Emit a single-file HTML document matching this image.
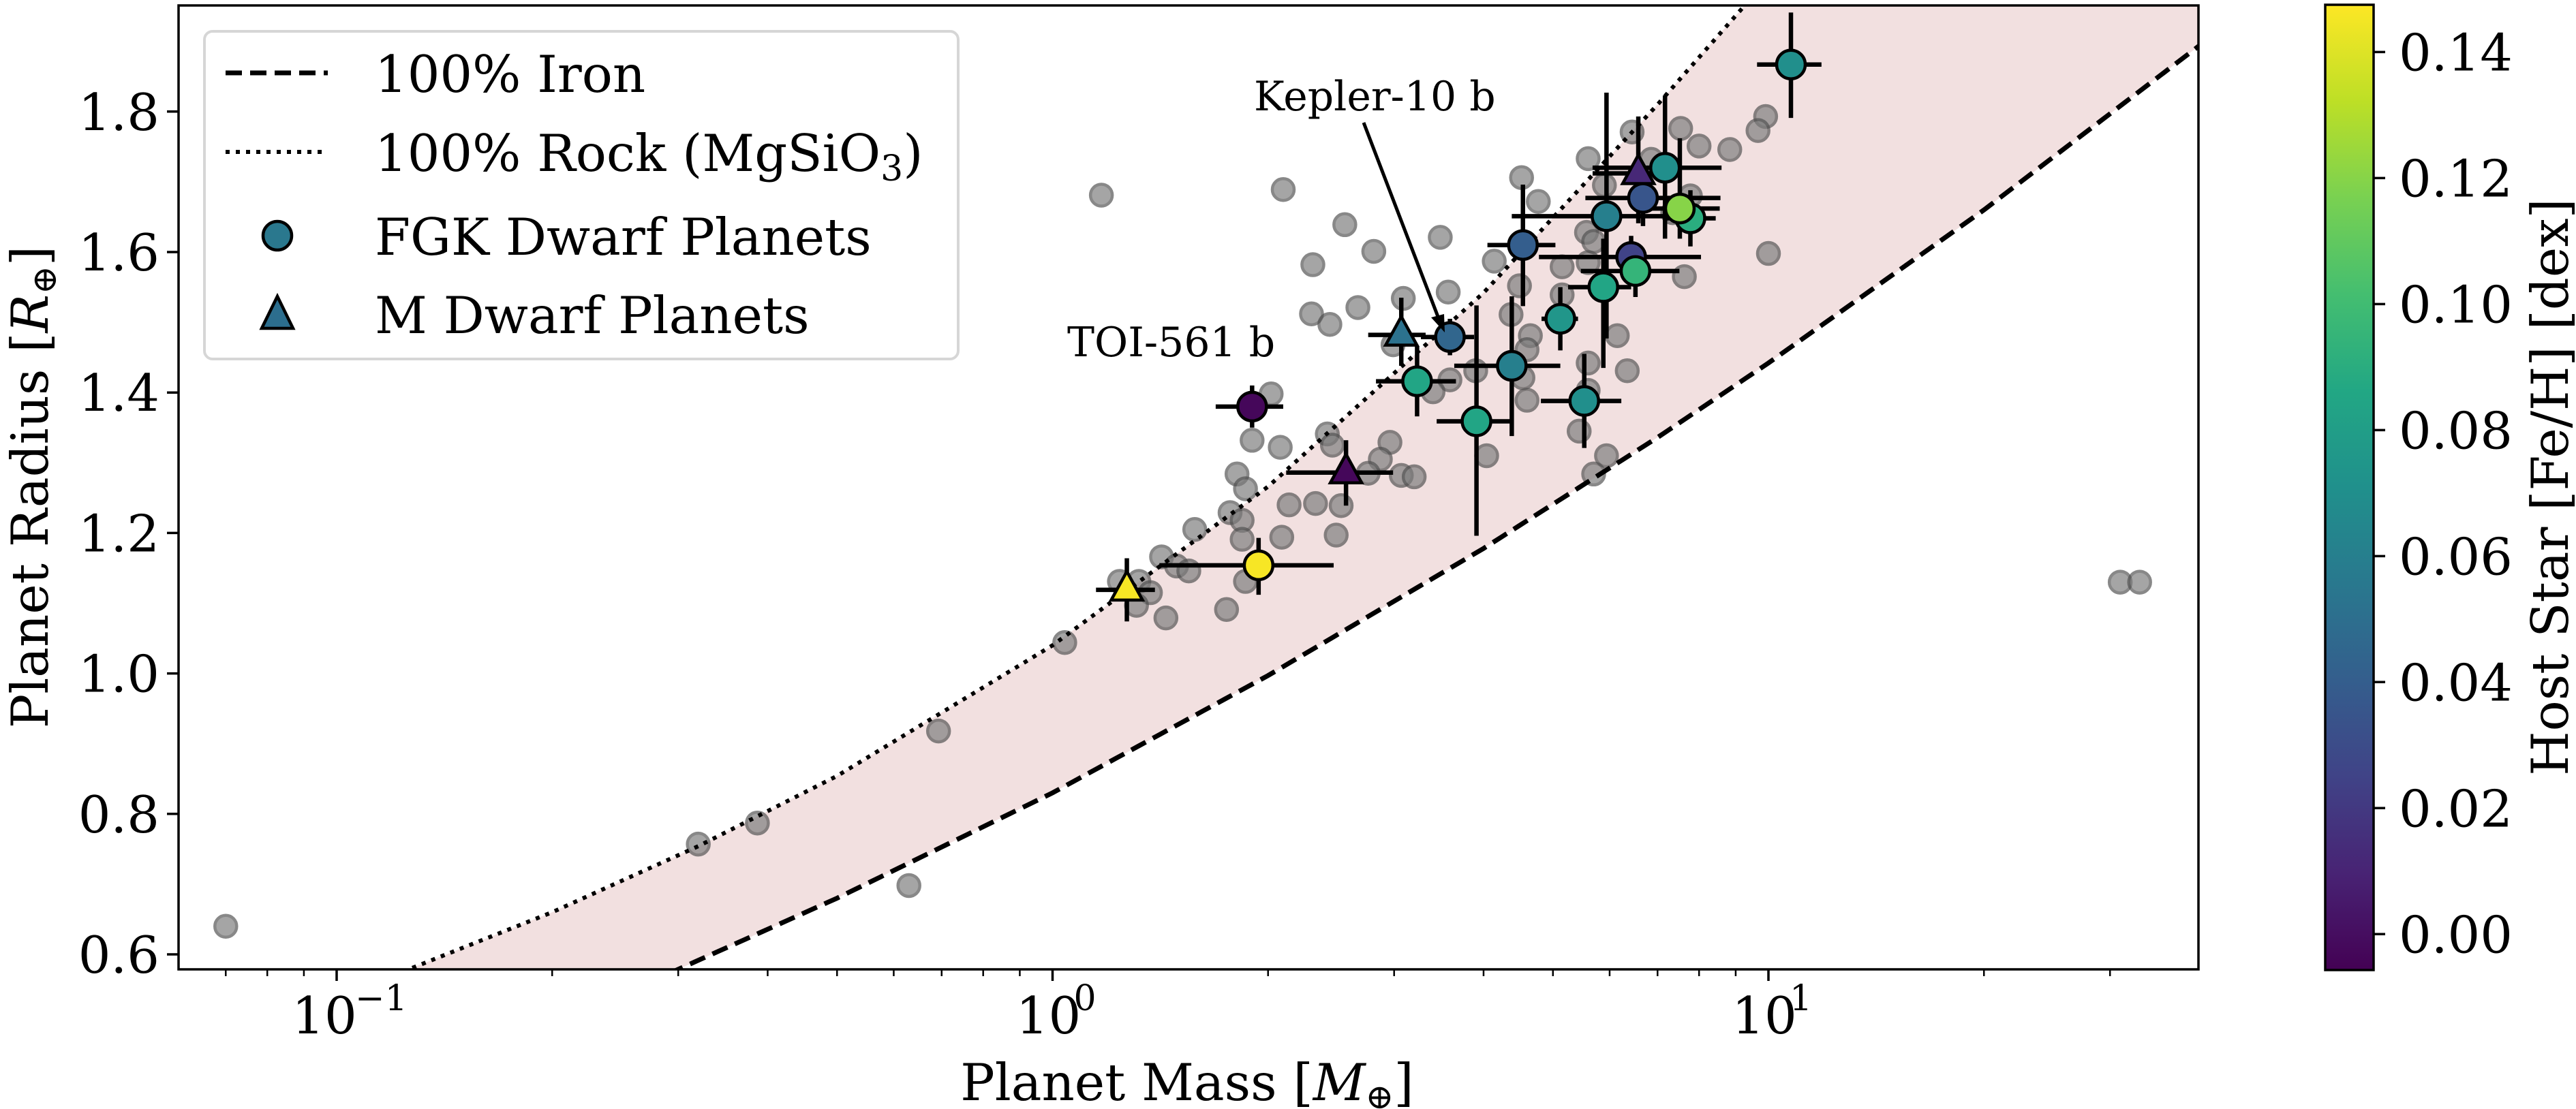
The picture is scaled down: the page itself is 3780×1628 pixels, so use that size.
<!DOCTYPE html>
<html><head><meta charset="utf-8">
<style>
html,body{margin:0;padding:0;background:#fff;}
svg{display:block;font-family:"DejaVu Serif","Liberation Serif",serif;}
</style></head>
<body>
<svg id="chart" xmlns="http://www.w3.org/2000/svg" width="3780" height="1628" viewBox="0 0 3780 1628">
</svg>
<script>
// ---------- data ----------
const rockMass   = [0.12, 0.2, 0.32, 0.5, 1, 2, 4, 7, 9.3, 12, 20, 45];
const rockRadius = [0.57, 0.660, 0.754, 0.854, 1.04, 1.266, 1.542, 1.810, 1.953, 2.10, 2.42, 3.05];
const ironMass   = [0.29, 0.5, 1, 2, 4, 7, 10, 20, 40, 45];
const ironRadius = [0.572, 0.680, 0.830, 0.997, 1.178, 1.336, 1.442, 1.660, 1.894, 1.93];

const grayMass = [0.07,0.32,0.387,0.63,0.693,1.04,1.17,2.10,2.56,2.31,2.30,2.44,2.67,2.02,1.90,2.08,1.81,1.86,2.42,2.46,1.77,1.84,1.84,2.14,2.33,2.53,2.09,2.49,1.58,1.42,1.49,1.55,1.32,1.37,1.31,1.44,1.75,1.86,1.24,
  2.81,3.48,3.09,3.57,4.14,4.52,4.77,5.60,6.45,7.54,8.0,8.83,9.91,9.67,10.0,6.86,5.9,7.78,7.35,5.57,5.7,5.6,5.15,4.49,5.15,4.37,6.15,4.65,4.6,3.9,3.59,3.4,4.54,4.6,5.6,5.6,6.35,5.44,4.04,5.94,5.7,2.96,2.87,2.76,3.07,3.2,7.63,2.99,31,33];
const grayRadius = [0.64,0.757,0.787,0.698,0.918,1.044,1.681,1.689,1.639,1.582,1.512,1.497,1.521,1.398,1.332,1.322,1.284,1.263,1.341,1.325,1.229,1.218,1.191,1.240,1.242,1.239,1.194,1.197,1.205,1.166,1.153,1.146,1.131,1.115,1.097,1.079,1.091,1.131,1.131,
  1.601,1.621,1.534,1.543,1.587,1.706,1.672,1.733,1.771,1.776,1.751,1.746,1.793,1.773,1.598,1.732,1.695,1.680,1.656,1.628,1.615,1.585,1.579,1.552,1.539,1.511,1.481,1.481,1.461,1.431,1.418,1.401,1.421,1.389,1.442,1.403,1.431,1.345,1.310,1.310,1.284,1.329,1.305,1.285,1.282,1.280,1.565,1.468,1.130,1.130];

const fgkMass   = [3.59,3.23,3.91,4.38,4.54,5.12,5.53,5.88,5.94,6.68,6.43,6.52,7.17,7.78,7.52,10.75,1.94,1.90];
const fgkMassLo = [3.27,2.83,3.44,3.64,4.05,4.82,4.81,5.25,4.38,5.55,4.78,5.47,5.68,7.22,6.73,9.64,1.41,1.69];
const fgkMassHi = [3.88,3.66,4.39,5.12,5.04,5.42,6.23,6.43,7.50,8.57,8.05,7.51,8.60,8.44,8.55,11.86,2.47,2.10];
const fgkRadius = [1.479,1.416,1.359,1.438,1.610,1.505,1.388,1.550,1.651,1.677,1.593,1.573,1.720,1.648,1.662,1.867,1.154,1.380];
const fgkRadLo  = [1.453,1.366,1.196,1.338,1.523,1.460,1.321,1.435,1.477,1.637,1.563,1.536,1.619,1.608,1.619,1.791,1.112,1.350];
const fgkRadHi  = [1.505,1.466,1.524,1.537,1.696,1.550,1.455,1.619,1.827,1.717,1.623,1.610,1.823,1.688,1.762,1.941,1.193,1.410];
const fgkFeH    = [0.045,0.085,0.085,0.060,0.040,0.075,0.070,0.085,0.060,0.035,0.025,0.095,0.070,0.090,0.120,0.070,0.146,-0.003];

const mMass   = [3.07,6.58,1.27,2.57];
const mMassLo = [2.76,5.68,1.15,2.12];
const mMassHi = [3.32,7.22,1.39,2.99];
const mRadius = [1.482,1.712,1.119,1.286];
const mRadLo  = [1.438,1.641,1.074,1.239];
const mRadHi  = [1.535,1.793,1.164,1.332];
const mFeH    = [0.052,0.012,0.146,-0.003];

const yTicks = [0.6,0.8,1.0,1.2,1.4,1.6,1.8];
const yTickLabels = ["0.6","0.8","1.0","1.2","1.4","1.6","1.8"];
const xMajor = [0.1,1,10];
const xMajorExp = ["\u22121","0","1"];
const xMinor = [0.07,0.08,0.09,0.2,0.3,0.4,0.5,0.6,0.7,0.8,0.9,2,3,4,5,6,7,8,9,20,30,40];
const cbTicks = [0,0.02,0.04,0.06,0.08,0.10,0.12,0.14];
const cbTickLabels = ["0.00","0.02","0.04","0.06","0.08","0.10","0.12","0.14"];

// ---------- layout ----------
const L=262, R=3226, T=8, B=1423;
const xDec=1050.5, x0=1544.5;
const yPer=1031, y06=1401;
const X = m => x0 + Math.log10(m)*xDec;
const Y = r => y06 - (r-0.6)*yPer;
const cbL=3412, cbR=3483, cbT=7, cbB=1424, cbVmin=-0.0057, cbVmax=0.1475;
const CY = v => cbB - (v-cbVmin)/(cbVmax-cbVmin)*(cbB-cbT);

const VIR=[[68,1,84],[72,35,116],[64,67,135],[52,94,141],[41,120,142],[32,144,140],[34,167,132],[68,190,112],[121,209,81],[189,223,38],[253,231,37]];
function viridis(t){t=Math.max(0,Math.min(1,t));const s=t*(VIR.length-1);const i=Math.min(Math.floor(s),VIR.length-2);const f=s-i;
  const c=VIR[i].map((a,k)=>Math.round(a+(VIR[i+1][k]-a)*f));return `rgb(${c[0]},${c[1]},${c[2]})`;}
const fehColor = v => viridis((v-cbVmin)/(cbVmax-cbVmin));

const svg=document.getElementById('chart');
const NS='http://www.w3.org/2000/svg';
function mk(tag,attrs,parent){const e=document.createElementNS(NS,tag);for(const k in attrs)e.setAttribute(k,attrs[k]);(parent||svg).appendChild(e);return e;}

const defs=mk('defs',{});
const cp=mk('clipPath',{id:'plotclip'},defs);
mk('rect',{x:L,y:T,width:R-L,height:B-T},cp);
const grad=mk('linearGradient',{id:'vgrad',x1:0,y1:1,x2:0,y2:0},defs);
VIR.forEach((c,i)=>{mk('stop',{offset:(i/(VIR.length-1)),'stop-color':`rgb(${c[0]},${c[1]},${c[2]})`},grad);});

const plot=mk('g',{'clip-path':'url(#plotclip)'});



function curvePts(ms,rs){const pts=[];for(let i=0;i<ms.length-1;i++){for(let j=0;j<20;j++){const f=j/20;const lm=Math.log10(ms[i])+(Math.log10(ms[i+1])-Math.log10(ms[i]))*f;const r=rs[i]+(rs[i+1]-rs[i])*f;pts.push([x0+lm*xDec,Y(r)]);}}
  pts.push([X(ms[ms.length-1]),Y(rs[rs.length-1])]);return pts;}
const rockPts=curvePts(rockMass,rockRadius), ironPts=curvePts(ironMass,ironRadius);
const fillD='M'+rockPts.map(p=>p.join(',')).join('L')+'L'+ironPts.slice().reverse().map(p=>p.join(',')).join('L')+'Z';
const band=mk('path',{d:fillD,fill:'#f2e0e0',stroke:'none'},plot);



const grayG=mk('g',{},plot);


for(let i=0;i<grayMass.length;i++){
  const c=mk('circle',{cx:X(grayMass[i]),cy:Y(grayRadius[i]),r:16,fill:'#7c7c7c',stroke:'#505050',"stroke-width":4.5,opacity:0.68},grayG);
  
  
}

const rockLine=mk('path',{d:'M'+rockPts.map(p=>p.join(',')).join('L'),fill:'none',stroke:'#000','stroke-width':6,'stroke-dasharray':'6,9'},plot);


const ironLine=mk('path',{d:'M'+ironPts.map(p=>p.join(',')).join('L'),fill:'none',stroke:'#000','stroke-width':7,'stroke-dasharray':'24,12'},plot);



const errG=mk('g',{stroke:'#000','stroke-width':6.5},plot);


function errs(ms,lo,hi,rs,rlo,rhi){for(let i=0;i<ms.length;i++){
  mk('line',{x1:X(lo[i]),x2:X(hi[i]),y1:Y(rs[i]),y2:Y(rs[i])},errG);
  mk('line',{x1:X(ms[i]),x2:X(ms[i]),y1:Y(rlo[i]),y2:Y(rhi[i])},errG);}}
errs(fgkMass,fgkMassLo,fgkMassHi,fgkRadius,fgkRadLo,fgkRadHi);
errs(mMass,mMassLo,mMassHi,mRadius,mRadLo,mRadHi);

const fgkG=mk('g',{},plot);


for(let i=0;i<fgkMass.length;i++){
  const c=mk('circle',{cx:X(fgkMass[i]),cy:Y(fgkRadius[i]),r:21,fill:fehColor(fgkFeH[i]),stroke:'#000','stroke-width':4.5},fgkG);
  
  
}
const mG=mk('g',{},plot);


for(let i=0;i<mMass.length;i++){
  const cx=X(mMass[i]),cy=Y(mRadius[i]);
  const t=mk('polygon',{points:`${cx},${cy-27} ${cx+23},${cy+15} ${cx-23},${cy+15}`,fill:fehColor(mFeH[i]),stroke:'#000','stroke-width':4.5,'stroke-linejoin':'miter'},mG);
  
  
}

const kt=mk('text',{x:1840,y:162,'font-size':60},svg); kt.textContent='Kepler-10 b';


const ka=mk('line',{x1:2001,y1:180,x2:2112,y2:470,stroke:'#000','stroke-width':5},svg);


const kh=mk('polygon',{points:'2120,488 2100,466 2119,461',fill:'#000'},svg);


const tt=mk('text',{x:1566,y:523,'font-size':60},svg); tt.textContent='TOI-561 b';



const frame=mk('rect',{x:L,y:T,width:R-L,height:B-T,fill:'none',stroke:'#000','stroke-width':3.5},svg);



const yAx=mk('g',{},svg);


yTicks.forEach((v,i)=>{const y=Y(v);
  mk('line',{x1:L-17,x2:L,y1:y,y2:y,stroke:'#000','stroke-width':3.5},yAx);
  const t=mk('text',{x:L-28,y:y+27,'font-size':75,'text-anchor':'end'},yAx);t.textContent=yTickLabels[i];
  
  
});
const xAx=mk('g',{},svg);


xMinor.forEach(v=>{const x=X(v);if(x<L-1||x>R+1)return;mk('line',{x1:x,x2:x,y1:B,y2:B+10,stroke:'#000','stroke-width':2.5},xAx);});
xMajor.forEach((v,i)=>{const x=X(v);
  const neg=xMajorExp[i].length>1;
  mk('line',{x1:x,x2:x,y1:B,y2:B+17,stroke:'#000','stroke-width':3.5},xAx);
  const t=mk('text',{x:neg?x-18:x-6,y:1517,'font-size':75,'text-anchor':'middle'},xAx);t.textContent='10';
  
  
  const s=mk('text',{x:neg?x+27:x+31,y:1483,'font-size':52,'text-anchor':'start'},xAx);s.textContent=xMajorExp[i];
  
  
});

const xt=mk('text',{x:1742,y:1615,'font-size':75,'text-anchor':'middle'},svg);
xt.innerHTML='Planet Mass [<tspan font-style="italic">M</tspan><tspan font-size="50" dy="12">⊕</tspan><tspan dy="-12">]</tspan>';


const yt=mk('text',{x:0,y:0,'font-size':75,'text-anchor':'middle',transform:'translate(70,715) rotate(-90)'},svg);
yt.innerHTML='Planet Radius [<tspan font-style="italic">R</tspan><tspan font-size="50" dy="12">⊕</tspan><tspan dy="-12">]</tspan>';



const cb=mk('g',{},svg);


mk('rect',{x:cbL,y:cbT,width:cbR-cbL,height:cbB-cbT,fill:'url(#vgrad)',stroke:'#000','stroke-width':3.5},cb);
cbTicks.forEach((v,i)=>{const y=CY(v);
  mk('line',{x1:cbR,x2:cbR+17,y1:y,y2:y,stroke:'#000','stroke-width':3.5},cb);
  const t=mk('text',{x:3520,y:y+27,'font-size':75},cb);t.textContent=cbTickLabels[i];
  
  
});
const cbt=mk('text',{x:0,y:0,'font-size':75,'text-anchor':'middle',transform:'translate(3768,715) rotate(-90)'},svg);
cbt.textContent='Host Star [Fe/H] [dex]';



const lg=mk('g',{},svg);


mk('rect',{x:300,y:46,width:1106,height:481,rx:12,fill:'#fff','fill-opacity':0.85,stroke:'#d6d6d6','stroke-width':4},lg);
mk('line',{x1:331,x2:481,y1:107,y2:107,stroke:'#000','stroke-width':7,'stroke-dasharray':'24,12'},lg);
mk('line',{x1:331,x2:481,y1:223,y2:223,stroke:'#000','stroke-width':6,'stroke-dasharray':'6,9'},lg);
mk('ellipse',{cx:407,cy:346,rx:21,ry:21,fill:'#2a788e',stroke:'#000','stroke-width':4.5},lg);
mk('polygon',{points:'407,435 430,482 384,482',fill:'#2c6e8e',stroke:'#000','stroke-width':4.5},lg);
const lt=[['100% Iron',135],['100% Rock (MgSiO<tspan font-size="52" dy="14">3</tspan><tspan dy="-14">)</tspan>',251],['FGK Dwarf Planets',374],['M Dwarf Planets',489]];
const ln=['legend-entry-iron','legend-entry-rock','legend-entry-fgk','legend-entry-m-dwarf'];
lt.forEach((a,i)=>{const t=mk('text',{x:550,y:a[1],'font-size':75},lg);t.innerHTML=a[0];
  
  
});
</script>
</body></html>
